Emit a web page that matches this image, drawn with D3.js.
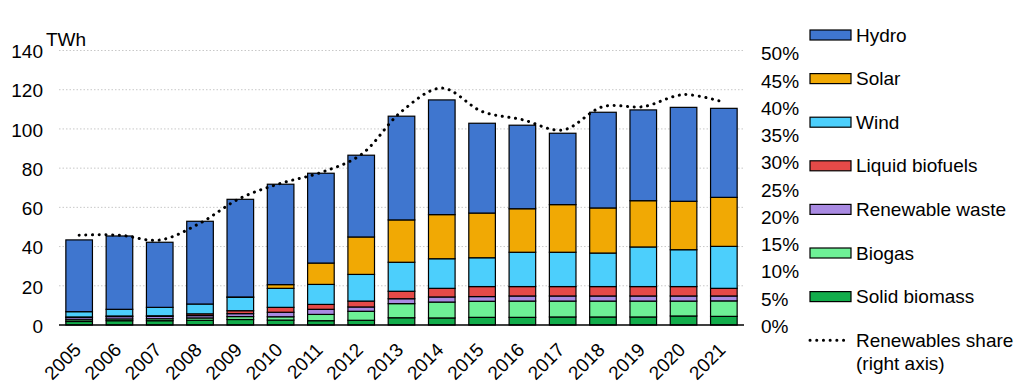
<!DOCTYPE html>
<html lang="en">
<head>
    <meta charset="UTF-8">
    <title>renewables stacked bars</title>
    <script src="https://cdn.jsdelivr.net/npm/d3@7"></script>
    <style>
        body { margin: 0; background: #fff; }
        svg text { font-family: "Liberation Sans", Arial, sans-serif; font-size: 19px; fill: #000; }
        .grid line { stroke: #c8c8c8; stroke-width: 1px; stroke-dasharray: 1.5 2; }
        rect.seg { stroke: #000; stroke-width: 1.2px; }
        path.share { fill: none; stroke: #000; stroke-width: 3px; stroke-linecap: round; stroke-dasharray: 0.1 6.6; }
    </style>
</head>
<body>

<svg width="1027" height="392"></svg>

<script>
    // data (TWh, share in %)
    let years = ["2005","2006","2007","2008","2009","2010","2011","2012","2013","2014","2015","2016","2017","2018","2019","2020","2021"]
    let solidBiomass = [1.8, 2.2, 2.2, 2.4, 2.8, 2.5, 2.2, 2.4, 3.7, 3.6, 3.9, 3.9, 4.1, 4.1, 4.1, 4.6, 4.4]
    let biogas = [0.9, 0.9, 1.0, 1.2, 1.5, 1.7, 3.2, 4.6, 7.2, 8.1, 8.2, 8.3, 8.1, 8.1, 8.1, 7.6, 7.9]
    let renewableWaste = [1.1, 1.2, 1.2, 1.2, 1.5, 2.3, 2.6, 2.2, 2.5, 2.6, 2.4, 2.6, 2.6, 2.6, 2.6, 2.6, 2.5]
    let liquidBiofuels = [0.3, 0.3, 0.3, 0.9, 1.5, 2.5, 2.5, 3.0, 3.8, 4.4, 5.1, 4.8, 4.8, 4.8, 4.8, 4.8, 3.9]
    let wind = [2.7, 3.4, 4.3, 5.0, 6.8, 9.7, 10.2, 13.6, 14.8, 15.1, 14.7, 17.5, 17.5, 17.1, 20.2, 18.8, 21.4]
    let solar = [0, 0, 0, 0, 0.2, 1.9, 10.9, 19.1, 21.6, 22.5, 22.8, 22.2, 24.3, 23.0, 23.6, 24.7, 25.0]
    let hydro = [36.6, 37.4, 33.2, 42.2, 49.8, 51.2, 45.8, 41.7, 52.9, 58.5, 45.8, 42.6, 36.4, 48.8, 46.3, 47.9, 45.4]
    let share = [16.5, 16.5, 15.6, 18.7, 23.3, 26.0, 28.0, 31.3, 39.2, 43.5, 39.2, 37.7, 35.8, 40.1, 40.1, 42.3, 40.9]

    let leftTicks = [0, 20, 40, 60, 80, 100, 120, 140]
    let rightTicks = [0, 5, 10, 15, 20, 25, 30, 35, 40, 45, 50]

    // bottom-up stacking order
    let series = [
        {name: "Solid biomass", values: solidBiomass, color: "#12ad4b"},
        {name: "Biogas", values: biogas, color: "#6ef096"},
        {name: "Renewable waste", values: renewableWaste, color: "#a98ae2"},
        {name: "Liquid biofuels", values: liquidBiofuels, color: "#e44a48"},
        {name: "Wind", values: wind, color: "#4ccffc"},
        {name: "Solar", values: solar, color: "#f1a904"},
        {name: "Hydro", values: hydro, color: "#3f76cf"}
    ]

    let svg = d3.select('svg')

    let xScale = d3.scaleBand().domain(years).range([59, 744]).paddingInner(0.34).paddingOuter(0.17)
    let yScale = d3.scaleLinear().domain([0, 140]).range([325, 50.5])
    let yRight = d3.scaleLinear().domain([0, 50]).range([325, 52.7])

    // gridlines
    svg.append('g').attr('class', 'grid')
        .selectAll('line').data(leftTicks.slice(1)).join('line')
        .attr('x1', 59).attr('x2', 744)
        .attr('y1', d => yScale(d)).attr('y2', d => yScale(d))

    // stacked bars
    let table = years.map(function (y, i) {
        let row = {year: y}
        series.forEach(s => row[s.name] = s.values[i])
        return row
    })
    let stacked = d3.stack().keys(series.map(s => s.name))(table)

    svg.append('g').selectAll('g').data(stacked).join('g')
        .attr('fill', (d, i) => series[i].color)
        .selectAll('rect').data(d => d.filter(p => p[1] - p[0] > 0)).join('rect')
        .attr('class', 'seg')
        .attr('x', d => xScale(d.data.year))
        .attr('width', xScale.bandwidth())
        .attr('y', d => yScale(d[1]))
        .attr('height', d => yScale(d[0]) - yScale(d[1]))

    // base line
    svg.append('line').attr('x1', 59).attr('x2', 744)
        .attr('y1', yScale(0)).attr('y2', yScale(0))
        .attr('stroke', '#000').attr('stroke-width', 1.5)

    // renewables share (right axis)
    let shareLine = d3.line()
        .x((d, i) => xScale(years[i]) + xScale.bandwidth() / 2)
        .y(d => yRight(d))
        .curve(d3.curveCatmullRom.alpha(0.5))
    svg.append('path').attr('class', 'share').attr('d', shareLine(share))

    // left axis
    let leftAxis = svg.append('g').attr('transform', 'translate(43,0)')
        .call(d3.axisLeft(yScale).tickValues(leftTicks).tickSize(0).tickPadding(0))
    leftAxis.select('.domain').remove()
    leftAxis.selectAll('text').attr('dy', '0.38em')

    svg.append('text').attr('x', 46).attr('y', 46).text('TWh')

    // right axis
    let rightAxis = svg.append('g').attr('transform', 'translate(761,0)')
        .call(d3.axisRight(yRight).tickValues(rightTicks).tickSize(0).tickPadding(0).tickFormat(d => d + '%'))
    rightAxis.select('.domain').remove()
    rightAxis.selectAll('text').attr('dy', '0.38em')

    // year labels, rotated
    svg.append('g').selectAll('text').data(years).join('text')
        .attr('transform', d => 'translate(' + (xScale(d) + xScale.bandwidth() / 2 + 3) + ',351) rotate(-45)')
        .attr('text-anchor', 'end')
        .text(d => d)

    // legend
    let legendItems = series.slice().reverse()
    let legend = svg.append('g')
    legendItems.forEach(function (s, i) {
        let y = 35 + i * 43.6
        legend.append('rect').attr('class', 'seg')
            .attr('x', 810).attr('y', y - 5).attr('width', 41).attr('height', 10)
            .attr('fill', s.color)
        legend.append('text').attr('x', 856).attr('y', y).attr('dy', '0.35em').text(s.name)
    })
    let ly = 35 + 7 * 43.6
    legend.append('path').attr('class', 'share').attr('d', 'M810,' + ly + 'H849')
    legend.append('text').attr('x', 856).attr('y', ly).attr('dy', '0.35em').text('Renewables share')
    legend.append('text').attr('x', 856).attr('y', ly + 23).attr('dy', '0.35em').text('(right axis)')
</script>

</body>
</html>
